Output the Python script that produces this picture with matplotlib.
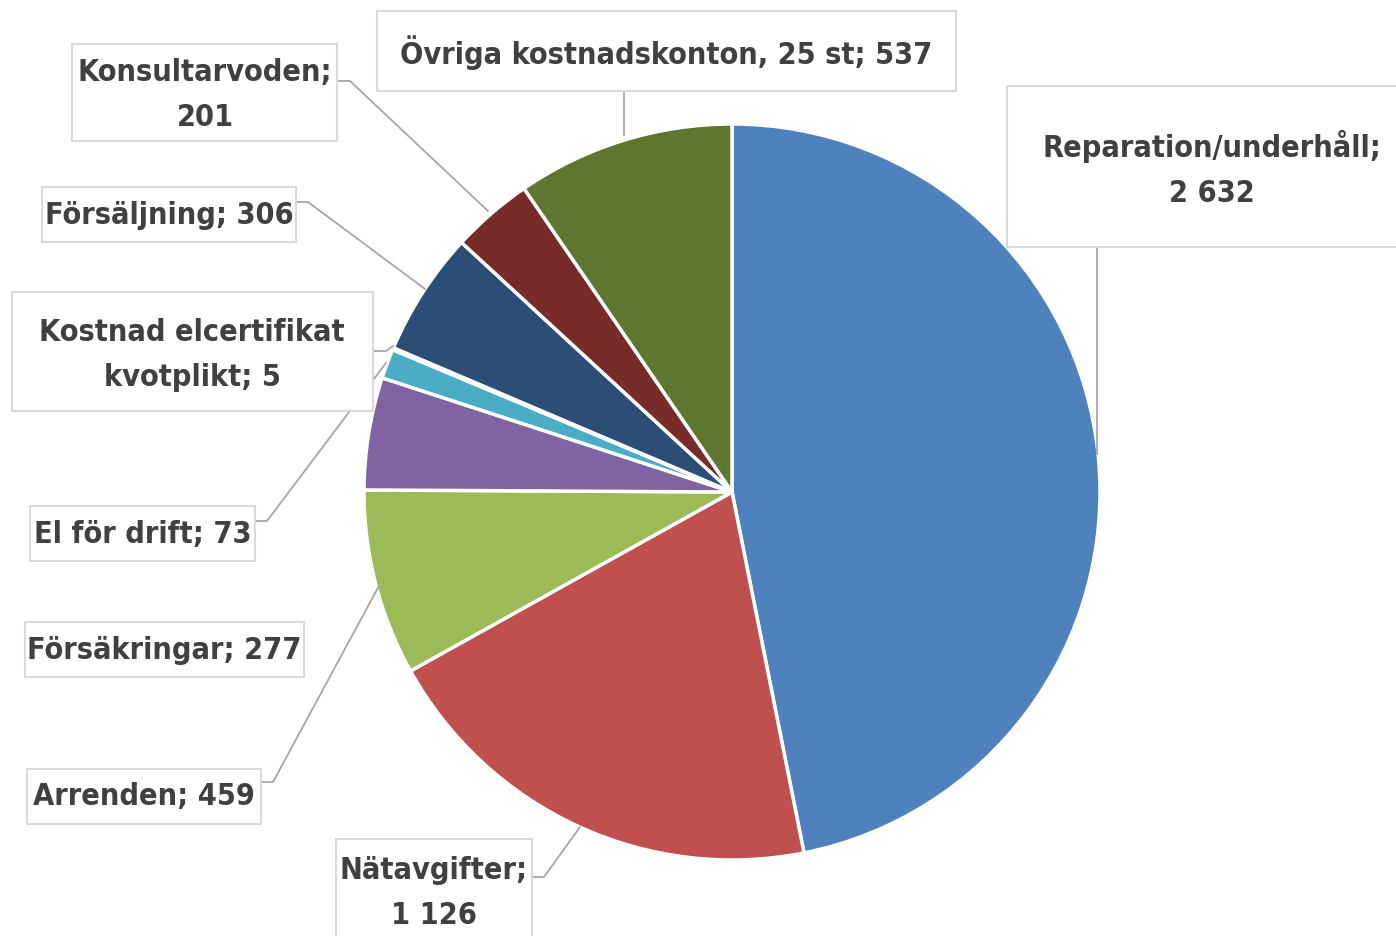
import matplotlib.pyplot as plt
import matplotlib.patches as mpatches
from matplotlib import font_manager

# data (clockwise from 12 o'clock)
kategorier = ['Reparation/underhåll', 'Nätavgifter', 'Arrenden', 'Försäkringar',
              'El för drift', 'Kostnad elcertifikat kvotplikt', 'Försäljning',
              'Konsultarvoden', 'Övriga kostnadskonton, 25 st']
varden = [2632, 1126, 459, 277, 73, 5, 306, 201, 537]
etiketter = ['Reparation/underhåll;\n2 632', 'Nätavgifter;\n1 126', 'Arrenden; 459',
             'Försäkringar; 277', 'El för drift; 73', 'Kostnad elcertifikat\nkvotplikt; 5',
             'Försäljning; 306', 'Konsultarvoden;\n201', 'Övriga kostnadskonton, 25 st; 537']
farger = ['#4F81BD', '#C0504D', '#9BBB59', '#8064A2', '#4BACC6', '#F79646',
          '#2C4D75', '#772C2A', '#5F7530']

# look for a narrow font (Calibri-like width), else shrink DejaVu
smala = [f for f in font_manager.fontManager.ttflist
         if ('Narrow' in f.name or 'Condensed' in f.name
             or f.stretch in ('condensed', 'semi-condensed'))]
if smala:
    font = dict(family=[smala[0].name, 'DejaVu Sans'], fontstretch=smala[0].stretch,
                fontsize=22)
    FONTINFO = smala[0].name
else:
    font = dict(family=['DejaVu Sans'], fontsize=19.5)
    FONTINFO = 'none'

W, H = 1396, 937
fig = plt.figure(figsize=(W / 100, H / 100), dpi=100)
ax = fig.add_axes([0, 0, 1, 1])

# pixel-like coordinates, y axis pointing down
ax.pie(varden, colors=farger, startangle=-90, counterclock=True,
       center=(732, 493), radius=368,
       wedgeprops=dict(edgecolor='white', linewidth=2.5))
ax.set_xlim(0, W)
ax.set_ylim(H, 0)
ax.set_aspect('equal')
ax.axis('off')

# label boxes: (x0, y0, x1, y1), text centre
boxar = [
    ((1007, 87, 1420, 248), (1212, 169)),
    ((336, 840, 532, 960), (434, 893)),
    ((27, 770, 261, 825), (144, 797)),
    ((25, 623, 304, 678), (164, 651)),
    ((30, 507, 255, 562), (143, 535)),
    ((12, 293, 373, 412), (192, 355)),
    ((42, 188, 296, 243), (169, 216)),
    ((72, 45, 337, 142), (205, 95)),
    ((377, 12, 956, 92), (666, 53)),
]
linjer = [
    [(1097, 248), (1097, 455)],
    [(532, 878), (544, 878), (580, 828)],
    [(261, 783), (273, 783), (380, 585)],
    None,
    [(255, 522), (267, 522), (386, 364)],
    [(373, 352), (386, 352), (393, 347)],
    [(296, 203), (308, 203), (425, 290)],
    [(338, 82), (350, 82), (488, 212)],
    [(624, 92), (624, 136)],
]

for etikett, (box, (tx, ty)), linje in zip(etiketter, boxar, linjer):
    x0, y0, x1, y1 = box
    ax.add_patch(mpatches.Rectangle((x0, y0), x1 - x0, y1 - y0, facecolor='white',
                                    edgecolor='#D9D9D9', linewidth=1.5, zorder=3))
    ax.text(tx, ty, etikett, ha='center', va='center', color='#404040',
            fontweight='bold', linespacing=1.7, zorder=4, **font)
    if linje:
        xs, ys = zip(*linje)
        ax.plot(xs, ys, color='#A6A6A6', linewidth=1.3, zorder=2)

print(FONTINFO)
plt.savefig('out.png', dpi=100)
